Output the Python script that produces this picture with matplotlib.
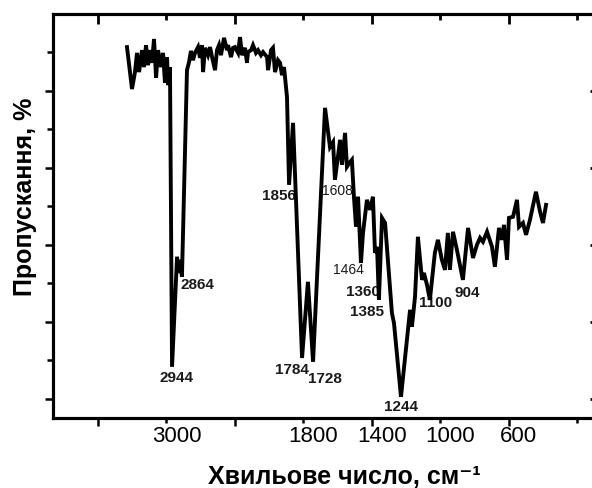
import numpy as np
import matplotlib
matplotlib.use('Agg')
import matplotlib.pyplot as plt
from matplotlib.transforms import ScaledTranslation

plt.rcParams['font.family'] = ['Liberation Sans', 'DejaVu Sans']

# ІЧ-спектр: хвильове число (см-1) і пропускання (%)
wavenumber = [3346, 3302, 3276, 3258, 3240, 3214, 3197, 3179, 3162, 3144,
              3127, 3109, 3091, 3074, 3048, 3030, 3013, 2995, 2986, 2969,
              2951, 2907, 2899, 2881, 2864, 2820, 2802, 2785, 2767, 2750,
              2723, 2706, 2688, 2679, 2662, 2636, 2618, 2600, 2574, 2557,
              2539, 2522, 2495, 2469, 2460, 2434, 2416, 2399, 2372, 2355,
              2337, 2311, 2294, 2285, 2258, 2241, 2215, 2197, 2171, 2153,
              2118, 2109, 2083, 2066, 2048, 2022, 2004, 1987, 1969, 1943,
              1925, 1890, 1811, 1773, 1743, 1673, 1644, 1626, 1615, 1585,
              1574, 1556, 1545, 1527, 1516, 1504, 1492, 1480, 1463, 1451,
              1428, 1410, 1393, 1381, 1369, 1358, 1340, 1322, 1282, 1270,
              1229, 1194, 1176, 1165, 1147, 1130, 1106, 1095, 1077, 1060,
              1031, 1013, 990, 972, 955, 943, 925, 902, 867, 837,
              808, 785, 767, 750, 726, 697, 680, 656, 639, 627,
              609, 598, 574, 551, 539, 516, 498, 475, 440, 416,
              399, 381]
transmittance = [91.4, 80.5, 84.9, 89.9, 84.9, 90.6, 86.2, 91.9, 86.7, 90.6,
                 87.3, 93.5, 83.4, 90.6, 86.2, 89.9, 82.1, 88.8, 81.5, 86.2,
                 8.3, 36.9, 32.7, 36.1, 31.7, 85.4, 87.5, 90.4, 88.0, 89.9,
                 91.4, 88.6, 91.9, 84.9, 91.2, 89.3, 91.4, 88.8, 85.4, 90.6,
                 91.9, 89.3, 93.8, 90.6, 91.9, 88.8, 91.2, 91.4, 89.9, 94.0,
                 89.3, 91.2, 87.3, 90.1, 90.6, 91.9, 89.9, 90.6, 89.3, 90.1,
                 88.8, 85.4, 90.6, 91.2, 84.9, 88.0, 87.3, 84.1, 86.2, 78.4,
                 55.6, 71.7, 10.6, 30.4, 9.6, 75.6, 65.4, 66.7, 56.9, 67.3,
                 60.8, 69.1, 60.3, 61.5, 62.1, 52.5, 44.7, 52.5, 35.3, 43.1,
                 51.7, 49.1, 52.5, 37.9, 39.5, 25.7, 47.0, 45.7, 22.3, 19.7,
                 0.5, 15.3, 23.1, 18.7, 26.5, 42.1, 30.9, 32.7, 29.6, 25.7,
                 37.9, 41.3, 36.1, 33.5, 43.1, 33.5, 43.4, 38.7, 30.9, 44.4,
                 36.6, 40.0, 41.8, 40.8, 43.4, 39.5, 34.3, 44.4, 41.3, 45.2,
                 36.1, 47.0, 47.3, 51.7, 44.7, 45.7, 42.6, 46.5, 53.8, 48.6,
                 45.7, 50.4]

# підписи смуг: текст, хвильове число і пропускання для центру підпису
peak_text = ['2944', '2864', '1856', '1608', '1784', '1728',
             '1464', '1360', '1385', '1244', '1100', '904']
peak_w = [2916, 2732, 2013, 1603, 1899, 1673, 1539, 1451, 1428, 1229, 1024, 843]
peak_t = [5.4, 29.6, 52.7, 54.0, 7.5, 5.2, 33.5, 27.8, 22.6, -2.1, 24.9, 27.5]

# вісь з розривом масштабу: 600 см-1 на поділку зліва, 400 см-1 справа
axis_w = [3600, 3000, 2400, 1800, 1400, 1000, 600, 200]
axis_labels = ['', '3000', '', '1800', '1400', '1000', '600', '']


def to_pos(w):
    return np.interp(-np.asarray(w, dtype=float), -np.array(axis_w, dtype=float),
                     np.arange(len(axis_w), dtype=float))


fig = plt.figure(figsize=(5.92, 4.88), dpi=100)
ax = fig.add_axes([53 / 592, 1 - 418 / 488, 547 / 592, 404 / 488])

ax.plot(to_pos(wavenumber), transmittance, color='black', lw=2.8,
        solid_joinstyle='miter', zorder=3)

for txt, w, t in zip(peak_text, peak_w, peak_t):
    small = txt in ('1608', '1464')
    ax.text(to_pos(w), t, txt, ha='center', va='center',
            fontsize=10 if small else 11,
            fontweight='normal' if small else 'bold',
            color='#1a1a1a', zorder=2)

xlim = (-0.658, 7.336)
ylim = (-5, 100)
ax.set_xlim(*xlim)
ax.set_ylim(*ylim)

# довгі поділки на парних позиціях, короткі на непарних
pos = to_pos(axis_w)
ax.set_xticks(pos[0::2], axis_labels[0::2])
ax.set_xticks(pos[1::2], axis_labels[1::2], minor=True)
ax.set_yticks(np.arange(0, 81, 20))
ax.set_yticks(np.arange(10, 91, 20), minor=True)
ax.set_yticklabels([])

ax.tick_params(axis='x', which='major', direction='out', length=6, width=1.8,
               pad=0, labelsize=16)
ax.tick_params(axis='x', which='minor', direction='out', length=3.8, width=1.8,
               pad=2.2, labelsize=16)
ax.tick_params(axis='y', which='major', direction='out', length=6, width=1.8)
ax.tick_params(axis='y', which='minor', direction='out', length=4, width=1.8)

# підписи поділок у оригіналі трохи зсунуті праворуч
shift = ScaledTranslation(0.1, 0, fig.dpi_scale_trans)
for lab in ax.get_xticklabels() + ax.get_xticklabels(minor=True):
    lab.set_transform(lab.get_transform() + shift)

# права вісь з поділками всередину
right = ax.twinx()
right.set_ylim(*ylim)
right.set_yticks(np.arange(0, 81, 20), [''] * 5)
right.tick_params(axis='y', which='major', direction='in', length=7, width=2)

# верхня вісь з поділками всередину
top = ax.twiny()
top.set_xlim(*xlim)
top.set_xticks(pos[0::2], [''] * 4)
top.set_xticks(pos[1::2], [''] * 4, minor=True)
top.tick_params(axis='x', which='major', direction='in', length=7, width=2,
                color='black')
top.tick_params(axis='x', which='minor', direction='in', length=4.2, width=2,
                color='black')

for a in (ax, top, right):
    for s in a.spines.values():
        s.set_linewidth(2.2)

ax.set_xlabel('Хвильове число, см⁻¹', fontsize=18, fontweight='bold',
              va='baseline')
ax.xaxis.set_label_coords(0.532, -0.163)
ax.set_ylabel('Пропускання, %', fontsize=18, fontweight='bold', va='center')
ax.yaxis.set_label_coords(-0.051, 0.547)

fig.savefig('out.png', dpi=100)
